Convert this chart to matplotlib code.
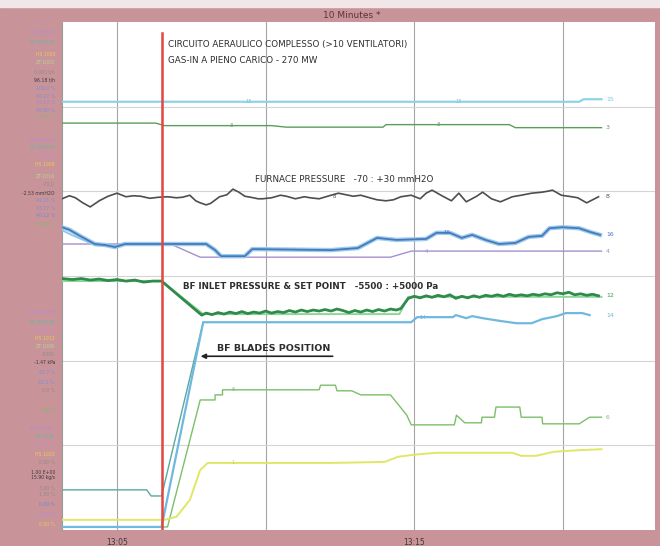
import matplotlib.pyplot as plt
from matplotlib.patches import Rectangle

# time axis: minutes after 13:00
tick_pos = [5, 10, 15, 20]
tick_lbl = ["13:05", "", "13:15", ""]
event_t = 6.51  # load rejection instant

# y: percent of trend window height (each pen has its own range)
cyan_x = [3.15, 20.55, 20.7, 21.3]
cyan_y = [84.3, 84.3, 84.8, 84.8]

grn_x = [3.15, 6.3, 6.6, 10.2, 10.7, 13.95, 14.05, 18.2, 18.4, 21.3]
grn_y = [80.1, 80.1, 79.6, 79.6, 79.3, 79.3, 79.8, 79.8, 79.2, 79.2]

furn_x = [3.15, 3.4, 3.6, 3.85, 4.1, 4.4, 4.7, 5.0, 5.3, 5.55, 5.8, 6.1, 6.4, 6.7,
          7.0, 7.2, 7.45, 7.65, 7.8, 8.0, 8.15, 8.45, 8.7, 8.9, 9.1, 9.3, 9.5, 9.75,
          9.9, 10.2, 10.5, 10.7, 11.0, 11.3, 11.5, 11.8, 12.2, 12.45, 12.7, 12.95,
          13.2, 13.5, 13.75, 14.05, 14.3, 14.55, 14.9, 15.2, 15.4, 15.6, 15.9, 16.25,
          16.5, 16.75, 17.1, 17.3, 17.6, 17.9, 18.3, 18.6, 18.95, 19.3, 19.5, 19.65,
          19.95, 20.3, 20.5, 20.8, 21.0, 21.2]
furn_y = [65.2, 65.8, 65.4, 64.4, 63.6, 64.8, 65.7, 66.3, 65.6, 65.8, 65.7, 65.3, 65.5, 65.6,
          65.4, 65.5, 65.9, 64.8, 64.4, 64.0, 64.3, 65.6, 66.0, 67.1, 66.5, 65.7, 65.5, 65.2,
          65.2, 65.4, 65.9, 65.7, 65.2, 65.6, 65.4, 65.2, 65.9, 66.3, 66.0, 65.7,
          65.9, 65.4, 65.0, 64.8, 65.0, 65.6, 65.9, 65.2, 66.3, 66.9, 65.9, 64.8,
          66.3, 64.6, 65.7, 66.5, 65.2, 64.6, 65.6, 65.9, 66.3, 66.5, 66.7, 66.9,
          65.9, 65.6, 65.4, 64.4, 65.0, 65.6]

blue_x = [3.15, 3.4, 3.75, 4.25, 4.6, 4.93, 5.27, 8.0, 8.3, 8.5, 9.3, 9.55, 12.2, 13.1,
          13.75, 14.4, 15.4, 15.75, 16.2, 16.6, 16.95, 17.4, 17.85, 18.4, 18.85, 19.3,
          19.55, 19.98, 20.55, 20.9, 21.25]
blue_y = [59.6, 59.1, 57.9, 56.3, 56.1, 55.7, 56.3, 56.3, 55.1, 53.9, 53.9, 55.3, 55.1, 55.5,
          57.5, 57.1, 57.3, 58.5, 58.5, 57.5, 58.1, 57.1, 56.3, 56.5, 57.7, 57.9,
          59.4, 59.6, 59.4, 58.7, 58.1]
lblue_x = [3.15, 3.5, 3.9, 4.3, 4.6, 5.3]
lblue_y = [59.0, 58.0, 57.0, 56.0, 56.0, 56.3]

purp_x = [3.15, 6.8, 7.8, 14.2, 14.9, 21.3]
purp_y = [56.3, 56.3, 53.7, 53.7, 54.9, 54.9]

bf_x = [3.15, 3.5, 3.8, 4.1, 4.4, 4.7, 5.0, 5.3, 5.6, 5.9, 6.2, 6.5, 7.85, 8.0, 8.2,
        8.4, 8.6, 8.8, 9.0, 9.2, 9.4, 9.6, 9.8, 10.0, 10.2, 10.4, 10.6, 10.8, 11.0,
        11.2, 11.4, 11.6, 11.8, 12.0, 12.2, 12.4, 12.6, 12.8, 13.0, 13.2, 13.4, 13.6,
        13.8, 14.0, 14.2, 14.4, 14.55, 14.8, 15.0, 15.2, 15.4, 15.6, 15.8, 16.0, 16.2,
        16.4, 16.6, 16.8, 17.0, 17.2, 17.4, 17.6, 17.8, 18.0, 18.2, 18.4, 18.6, 18.8,
        19.0, 19.2, 19.4, 19.6, 19.8, 20.0, 20.2, 20.4, 20.6, 20.8, 21.0, 21.2]
bf_y = [49.5, 49.3, 49.5, 49.2, 49.4, 49.1, 49.3, 49.0, 49.2, 48.8, 49.0, 49.0, 42.3, 42.7, 42.4,
        42.8, 42.5, 42.9, 42.6, 43.0, 42.6, 42.9, 42.7, 43.1, 42.7, 43.0, 42.8, 43.2, 42.9,
        43.3, 43.0, 43.3, 43.1, 43.4, 43.1, 43.5, 43.2, 42.8, 43.2, 42.9, 43.3, 43.0,
        43.4, 43.1, 43.5, 43.3, 43.6, 45.6, 46.0, 45.7, 46.1, 45.8, 46.2, 45.9, 46.3,
        45.6, 46.0, 45.7, 46.1, 45.8, 46.2, 46.0, 46.3, 46.0, 46.4, 46.1, 46.3, 46.1,
        46.4, 46.2, 46.5, 46.3, 46.7, 46.5, 46.8, 46.3, 46.5, 46.2, 46.4, 46.1]
sp_x = [3.15, 6.5, 7.9, 14.5, 14.8, 21.3]
sp_y = [49.0, 49.0, 42.5, 42.5, 45.9, 45.9]

blade_x = [3.15, 6.5, 7.9, 14.9, 15.1, 16.3, 16.4, 16.75, 16.95, 17.3, 17.95, 18.45,
           18.95, 19.3, 19.8, 20.1, 20.65, 20.9]
blade_y = [0.6, 0.6, 40.9, 40.9, 41.9, 41.9, 42.3, 41.7, 42.1, 41.7, 41.1, 40.7,
           40.7, 41.5, 42.1, 42.7, 42.7, 42.3]

teal_x = [3.15, 6.0, 6.15, 6.5, 7.9]
teal_y = [7.9, 7.9, 6.7, 6.7, 40.9]

step_x = [3.15, 6.7, 7.8, 8.3, 8.3, 8.55, 8.55, 11.8, 11.85, 12.35, 12.4, 12.9, 13.2,
          14.2, 14.75, 14.9, 16.35, 16.42, 16.7, 17.26, 17.28, 17.7, 17.75, 18.55,
          18.6, 19.3, 19.32, 20.55, 20.9, 21.3]
step_y = [0.6, 0.6, 25.6, 25.6, 26.6, 26.6, 27.6, 27.6, 28.5, 28.5, 27.4, 27.4, 26.6,
          26.6, 22.6, 20.7, 20.7, 22.6, 21.1, 21.1, 22.2, 22.2, 24.2, 24.2,
          22.2, 22.2, 20.9, 20.9, 22.2, 22.2]

yel_x = [3.15, 6.6, 7.0, 7.45, 7.8, 8.05, 12.2, 14.0, 14.45, 14.95, 15.75, 18.3, 18.6,
         19.1, 19.7, 20.5, 21.3]
yel_y = [2.0, 2.0, 2.6, 5.9, 11.8, 13.2, 13.2, 13.4, 14.4, 14.8, 15.2, 15.2, 14.6,
         14.6, 15.4, 15.7, 15.9]

# pen numbers written at the right end of each trace
end_tags = [("15", 84.8, "#7cc6e0"), ("3", 79.2, "#5a9e5a"), ("8", 65.6, "#505050"),
            ("16", 58.1, "#4a78b8"), ("4", 54.9, "#a58fd0"), ("12", 46.1, "#3a9a5a"),
            ("14", 42.3, "#6fb8e0"), ("6", 22.2, "#7cbf6a")]

# pen legend in the left strip: (row, text, colour)
side_rows = [
    (33, "FT-1015.PV", "#b58ad8"), (42, "FT-1003.PV", "#63b8aa"), (55, "HS 1003", "#e8cc55"),
    (63, "ZT-1003", "#b4d890"), (72, "0.000 t/h", "#8c8c8c"), (80, "96.18 t/h", "#3a3a3a"),
    (88, "100.0 %", "#7a90d8"), (96, "84.27 %", "#7a90d8"), (103, "79.63 %", "#a08ad0"),
    (110, "50.00 %", "#7a90d8"), (117, "21.40 %", "#88b870"),
    (140, "PT-1008.PV", "#b58ad8"), (148, "FT-1016.PV", "#63b8aa"), (156, "PT-1004", "#d08ad0"),
    (165, "HS 1008", "#e8cc55"), (176, "ZT-1016", "#b4d890"), (185, "-70.0", "#8c8c8c"),
    (193, "-2.53 mmH2O", "#3a3a3a"), (201, "44.21 %", "#7a90d8"), (208, "43.77 %", "#7a90d8"),
    (216, "40.12 %", "#6a8ad8"), (224, "30.00 %", "#88b870"),
    (312, "PT-1012.PV", "#b58ad8"), (322, "PT-1012.SP", "#63b8aa"), (330, "ZT-1014", "#d08ad0"),
    (338, "HS 1012", "#e8cc55"), (347, "ZT-1006", "#b4d890"), (355, "-5500", "#8c8c8c"),
    (363, "-1.47 kPa", "#3a3a3a"), (372, "42.7 %", "#7a90d8"), (382, "22.2 %", "#7a90d8"),
    (390, "0.0 %", "#8c8c8c"), (410, "100.0", "#88b870"),
    (428, "SI-1020.PV", "#b58ad8"), (437, "ZT-1020", "#63b8aa"), (445, "FT-1021", "#d08ad0"),
    (455, "HS 1020", "#e8cc55"), (463, "0.00 %", "#8c8c8c"), (472, "1.00 E+00", "#3a3a3a"),
    (478, "15.90 kg/s", "#3a3a3a"), (488, "3.00 %", "#8c8c8c"), (495, "1.00 %", "#8c8c8c"),
    (505, "0.00 %", "#6a8ad8"), (515, "0.00 %", "#b58ad8"), (525, "0.00 %", "#e8cc55"),
]

W, H = 660, 546
fig = plt.figure(figsize=(6.6, 5.46), dpi=100)
fig.patch.set_facecolor("#c9939a")
fig.patches.append(Rectangle((0, 1 - 7 / H), 1, 7 / H, transform=fig.transFigure,
                             color="#f1e6e8", zorder=0))
fig.text(352 / W, 1 - 15 / H, "10 Minutes *", ha="center", va="center",
         fontsize=6.5, color="#5a3438")

ax = fig.add_axes([62 / W, 1 - 530 / H, (655 - 62) / W, (530 - 22) / H])
ax.set_facecolor("white")
ax.set_xlim(3.15, 23.1)
ax.set_ylim(0, 100)
for s in ax.spines.values():
    s.set_visible(False)
ax.spines["left"].set_visible(True)
ax.spines["left"].set_color("#9a9a9a")
ax.set_yticks([])
ax.set_xticks(tick_pos)
ax.set_xticklabels(tick_lbl)
ax.tick_params(axis="x", length=0, pad=6, labelsize=5.5, labelcolor="#3a3a3a")

for t in tick_pos:
    ax.axvline(t, color="#a4a4a4", lw=0.8, zorder=1)
for k in range(1, 6):
    ax.axhline(100 / 6 * k, color="#d4d4d4", lw=0.8, zorder=1)

ax.plot([event_t, event_t], [0, 97.8], color="#e2463e", lw=1.8, zorder=6)

ax.plot(cyan_x, cyan_y, color="#8fd3e8", lw=1.6, zorder=3)
ax.plot(grn_x, grn_y, color="#5a9e5a", lw=1.0, zorder=3)
ax.plot(furn_x, furn_y, color="#4e4e4e", lw=1.2, zorder=3)
ax.plot(purp_x, purp_y, color="#a58fd0", lw=1.0, zorder=3)
ax.plot(blue_x, blue_y, color="#9ccdf0", lw=3.2, zorder=3)
ax.plot(lblue_x, lblue_y, color="#8cc4e8", lw=1.2, zorder=3)
ax.plot(blue_x, blue_y, color="#4a78b8", lw=1.3, zorder=4)
ax.plot(sp_x, sp_y, color="#8fd49a", lw=1.4, zorder=3)
ax.plot(bf_x, bf_y, color="#2e8b4a", lw=2.0, zorder=4)
ax.plot(teal_x, teal_y, color="#5aa8a0", lw=1.0, zorder=3)
ax.plot(step_x, step_y, color="#7cbf6a", lw=1.0, zorder=3)
ax.plot(yel_x, yel_y, color="#dfe866", lw=1.4, zorder=3)
ax.plot(blade_x, blade_y, color="#6fb8e0", lw=1.6, zorder=4)

for tag, y, c in end_tags:
    ax.text(21.45, y, tag, fontsize=4.5, color=c, va="center", ha="left", zorder=5)

# small pen numbers along the traces
for x, y, tag, c in [(9.45, 84.3, "15", "#7cc6e0"), (16.5, 84.3, "15", "#7cc6e0"),
                     (8.85, 79.6, "3", "#5a9e5a"), (15.8, 79.8, "3", "#5a9e5a"),
                     (12.3, 65.6, "8", "#505050"), (15.4, 54.9, "4", "#a58fd0"),
                     (16.1, 58.5, "16", "#4a78b8"), (15.3, 41.9, "14", "#6fb8e0"),
                     (8.9, 27.6, "6", "#7cbf6a"), (8.9, 13.2, "1", "#c8d050")]:
    ax.text(x, y, tag, fontsize=3.8, color=c, ha="center", va="center", zorder=5)

txt = dict(fontsize=6.3, color="#2e2e2e", va="center", ha="left", zorder=7)
ax.text(6.72, 95.5, "CIRCUITO AERAULICO COMPLESSO (>10 VENTILATORI)", **txt)
ax.text(6.72, 92.5, "GAS-IN A PIENO CARICO - 270 MW", **txt)
ax.text(9.65, 68.9, "FURNACE PRESSURE   -70 : +30 mmH2O", **txt)
ax.text(7.22, 48.0, "BF INLET PRESSURE & SET POINT   -5500 : +5000 Pa",
        fontweight="bold", **txt)
ax.text(8.35, 35.7, "BF BLADES POSITION", fontsize=6.8, fontweight="bold",
        color="#2e2e2e", va="center", ha="left", zorder=7)
ax.annotate("", xy=(7.72, 34.2), xytext=(12.35, 34.2),
            arrowprops=dict(arrowstyle="-|>", color="#222222", lw=1.2,
                            mutation_scale=7), zorder=7)

for row, label, c in side_rows:
    fig.text(55 / W, 1 - row / H, label, fontsize=3.3, color=c, ha="right", va="center")

fig.savefig("out.png", dpi=100, facecolor=fig.get_facecolor())
